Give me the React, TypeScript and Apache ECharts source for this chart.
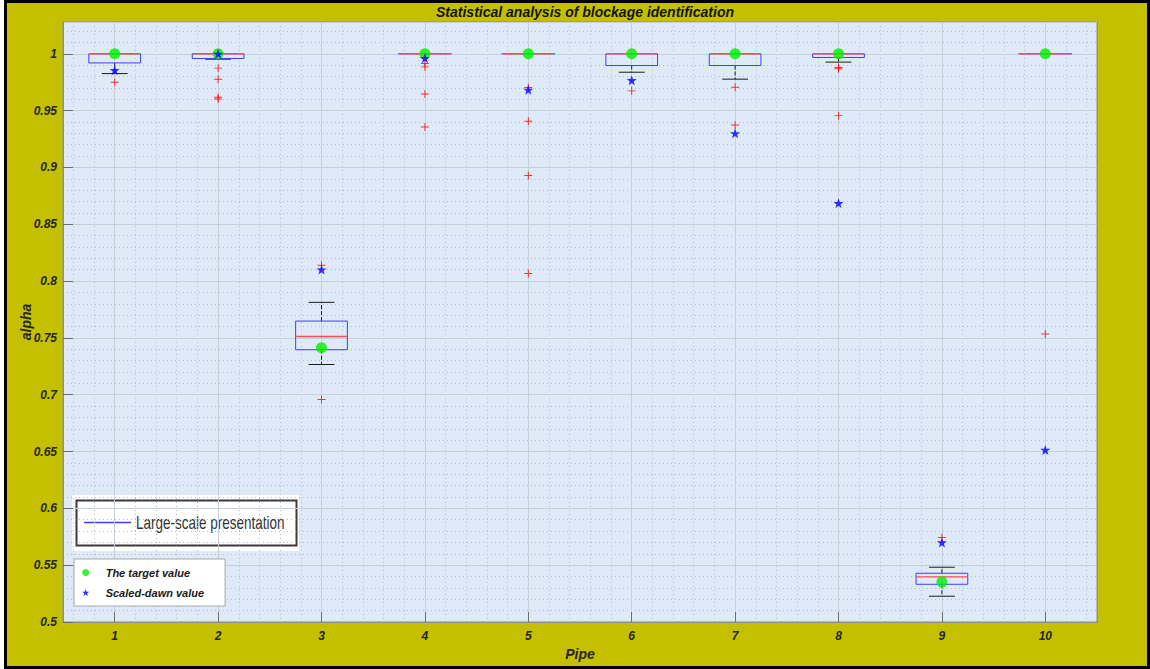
import React, { useEffect, useRef } from "react";
import * as echarts from "echarts";

// ---------- data ----------
const PIPES = [1, 2, 3, 4, 5, 6, 7, 8, 9, 10];
const LOWER_WHISKER = [0.9826, 0.9953, 0.7266, 1, 1, 0.9838, 0.9777, 0.9927, 0.5227, 1];
const Q1 = [0.992, 0.9959, 0.7396, 1, 1, 0.9897, 0.9897, 0.9968, 0.5332, 1];
const MEDIAN = [1, 1, 0.7513, 1, 1, 1, 1, 1, 0.5397, 1];
const Q3 = [1, 1, 0.7648, 1, 1, 1, 1, 1, 0.5429, 1];
const UPPER_WHISKER = [1, 1, 0.7813, 1, 1, 1, 1, 1, 0.5482, 1];
const OUTLIERS: [number, number][] = [
  [1, 0.975],
  [2, 0.9874], [2, 0.9777], [2, 0.9618], [2, 0.9603],
  [3, 0.8139], [3, 0.6958],
  [4, 0.9915], [4, 0.9885], [4, 0.9647], [4, 0.9356],
  [5, 0.9703], [5, 0.9406], [5, 0.893], [5, 0.8066],
  [6, 0.9674],
  [7, 0.9706], [7, 0.9374],
  [8, 0.9879], [8, 0.9868], [8, 0.9456],
  [9, 0.5744],
  [10, 0.7534],
];
const TARGET = [1, 1, 0.7414, 1, 1, 1, 1, 1, 0.5353, 1];
const SCALED = [0.9856, 1.0, 0.8101, 0.9962, 0.9683, 0.9768, 0.93, 0.8686, 0.57, 0.6514];

const X_MIN = 0.5;
const X_MAX = 10.5;
const Y_MIN = 0.5;
const Y_MAX = 1.028;
const Y_STEP = 0.05;
const Y_MINOR_STEP = 0.01;
const X_MINOR_STEP = 0.2;

const FONT = "'Liberation Sans', Arial, sans-serif";
const STAR =
  "path://M50 0L61.8 35.1H97.6L68.9 56.8L79.4 91L50 70.4L20.6 91L31.1 56.8L2.4 35.1H38.2Z";
const PLUS = "path://M0 44H100V56H0Z M44 0H56V100H44Z";

const minorX: number[] = [];
for (let v = 0.6; v < X_MAX - 1e-9; v += X_MINOR_STEP) {
  const r = Math.round(v * 10) / 10;
  if (Math.abs(r - Math.round(r)) > 1e-6) minorX.push(r);
}

export default function App() {
  const ref = useRef<HTMLDivElement>(null);

  useEffect(() => {
    if (!ref.current) return;
    const chart = echarts.init(ref.current, undefined, { renderer: "svg" });

    const boxData = PIPES.map((p, i) => [
      p,
      LOWER_WHISKER[i],
      Q1[i],
      MEDIAN[i],
      Q3[i],
      UPPER_WHISKER[i],
    ]);

    const tickLabel = {
      color: "#262626",
      fontFamily: FONT,
      fontWeight: "bold" as const,
      fontStyle: "italic" as const,
      fontSize: 12,
    };
    const axisNameStyle = {
      color: "#262626",
      fontFamily: FONT,
      fontWeight: "bold" as const,
      fontStyle: "italic" as const,
      fontSize: 14,
    };
    const edgeLine = { show: true, lineStyle: { color: "#8e8e8e", width: 1 } };
    const tickStyle = { color: "#6e6e6e", width: 1 };

    const option: any = {
      animation: false,
      backgroundColor: "#C4C000",
      title: {
        text: "Statistical analysis of blockage identification",
        left: 580,
        top: 0,
        textAlign: "center",
        textStyle: {
          color: "#141414",
          fontFamily: FONT,
          fontWeight: "bold",
          fontStyle: "italic",
          fontSize: 14,
        },
      },
      grid: {
        left: 63,
        right: 53,
        top: 22,
        bottom: 47,
        outerBoundsMode: "none",
        containLabel: false,
        show: true,
        backgroundColor: "#DFEAF8",
        borderColor: "#8e8e8e",
        borderWidth: 1,
      },
      legend: {
        data: ["The target value", "Scaled-dawn value"],
        orient: "vertical",
        left: 74,
        top: 559,
        padding: [8, 21, 8, 8],
        itemWidth: 30,
        itemHeight: 7,
        itemGap: 9,
        backgroundColor: "#ffffff",
        borderColor: "#a8a8a8",
        borderWidth: 1,
        borderRadius: 0,
        selectedMode: false,
        textStyle: {
          color: "#1a1a1a",
          fontFamily: FONT,
          fontWeight: "bold",
          fontStyle: "italic",
          fontSize: 11,
        },
      },
      xAxis: [
        {
          type: "value",
          min: X_MIN,
          max: X_MAX,
          position: "bottom",
          name: "Pipe",
          nameLocation: "middle",
          nameGap: 25,
          nameMoveOverlap: false,
          nameTextStyle: axisNameStyle,
          axisLine: edgeLine,
          axisTick: { show: true, inside: true, length: 10, customValues: PIPES, lineStyle: tickStyle },
          axisLabel: { ...tickLabel, customValues: PIPES, margin: 8 },
          splitLine: { show: true, lineStyle: { color: "#c5d0dc", width: 1 } },
          z: 3,
        },
        {
          type: "value",
          min: X_MIN,
          max: X_MAX,
          position: "top",
          axisLine: edgeLine,
          axisTick: { show: true, inside: true, length: 10, customValues: PIPES, lineStyle: tickStyle },
          axisLabel: { show: false },
          splitLine: { show: false },
        },
        {
          type: "value",
          min: X_MIN,
          max: X_MAX,
          position: "bottom",
          axisLine: { show: false },
          axisTick: { show: false, customValues: minorX },
          axisLabel: { show: false },
          splitLine: { show: true, lineStyle: { color: "#b5bfca", width: 1, type: [1, 3] } },
        },
      ],
      yAxis: [
        {
          type: "value",
          min: Y_MIN,
          max: Y_MAX,
          interval: Y_STEP,
          position: "left",
          name: "alpha",
          nameLocation: "middle",
          nameGap: 30,
          nameMoveOverlap: false,
          nameTextStyle: axisNameStyle,
          axisLine: edgeLine,
          axisTick: { show: true, inside: true, length: 10, lineStyle: tickStyle },
          axisLabel: {
            ...tickLabel,
            margin: 6,
            showMaxLabel: false,
            formatter: (v: number) => {
              const k = v / Y_STEP;
              return Math.abs(k - Math.round(k)) < 1e-6 ? String(parseFloat(v.toFixed(2))) : "";
            },
          },
          splitLine: { show: true, lineStyle: { color: "#c5d0dc", width: 1 } },
          z: 3,
        },
        {
          type: "value",
          min: Y_MIN,
          max: Y_MAX,
          interval: Y_STEP,
          position: "right",
          axisLine: edgeLine,
          axisTick: { show: true, inside: true, length: 10, lineStyle: tickStyle },
          axisLabel: { show: false },
          splitLine: { show: false },
        },
        {
          type: "value",
          min: Y_MIN,
          max: Y_MAX,
          interval: Y_MINOR_STEP,
          position: "left",
          axisLine: { show: false },
          axisTick: { show: false },
          axisLabel: { show: false },
          splitLine: { show: true, lineStyle: { color: "#b5bfca", width: 1, type: [1, 3] } },
        },
      ],
      series: [
        {
          name: "Large-scale presentation",
          type: "custom",
          xAxisIndex: 0,
          yAxisIndex: 0,
          data: boxData,
          encode: { x: 0, y: [1, 2, 3, 4, 5] },
          z: 3,
          renderItem: (params: any, api: any) => {
            const x = api.value(0);
            const lo = api.coord([x, api.value(1)]);
            const q1 = api.coord([x, api.value(2)]);
            const med = api.coord([x, api.value(3)]);
            const q3 = api.coord([x, api.value(4)]);
            const hi = api.coord([x, api.value(5)]);
            const unit = api.size([1, 0])[0];
            const bw = unit * 0.25;
            const cw = unit * 0.125;
            const cx = q1[0];
            const children: any[] = [];
            const whisk = { stroke: "#1a1a1a", lineWidth: 1, lineDash: [4, 2] };
            const cap = { stroke: "#1a1a1a", lineWidth: 1 };
            if (q3[1] - hi[1] > 0.5) {
              children.push({ type: "line", shape: { x1: cx, y1: q3[1], x2: cx, y2: hi[1] }, style: whisk });
              children.push({ type: "line", shape: { x1: cx - cw, y1: hi[1], x2: cx + cw, y2: hi[1] }, style: cap });
            }
            if (lo[1] - q1[1] > 0.5) {
              children.push({ type: "line", shape: { x1: cx, y1: q1[1], x2: cx, y2: lo[1] }, style: whisk });
              children.push({ type: "line", shape: { x1: cx - cw, y1: lo[1], x2: cx + cw, y2: lo[1] }, style: cap });
            }
            const h = q1[1] - q3[1];
            if (h > 0.5) {
              children.push({
                type: "rect",
                shape: { x: cx - bw, y: q3[1], width: bw * 2, height: h },
                style: { fill: "none", stroke: "#3d3dff", lineWidth: 1 },
              });
            } else {
              children.push({
                type: "line",
                shape: { x1: cx - bw - 1, y1: q3[1], x2: cx + bw + 1, y2: q3[1] },
                style: { stroke: "#6a6aff", lineWidth: 1.4 },
              });
            }
            children.push({
              type: "line",
              shape: { x1: cx - bw + 0.5, y1: med[1], x2: cx + bw - 0.5, y2: med[1] },
              style: { stroke: "#ff4d4d", lineWidth: 1.4 },
            });
            return { type: "group", children };
          },
        },
        {
          name: "Outliers",
          type: "scatter",
          xAxisIndex: 0,
          yAxisIndex: 0,
          data: OUTLIERS,
          symbol: PLUS,
          symbolSize: 8,
          itemStyle: { color: "#ff0000" },
          z: 4,
        },
        {
          name: "The target value",
          type: "scatter",
          xAxisIndex: 0,
          yAxisIndex: 0,
          data: PIPES.map((p, i) => [p, TARGET[i]]),
          symbol: "circle",
          symbolSize: 11,
          itemStyle: { color: "#00f000" },
          z: 5,
        },
        {
          name: "Scaled-dawn value",
          type: "scatter",
          xAxisIndex: 0,
          yAxisIndex: 0,
          data: PIPES.map((p, i) => [p, SCALED[i]]),
          symbol: STAR,
          symbolSize: 10,
          itemStyle: { color: "#0000ff" },
          z: 6,
        },
      ],
      graphic: [
        { type: "rect", z: 100, shape: { x: 0, y: 0, width: 1150, height: 3 }, style: { fill: "#000" } },
        { type: "rect", z: 100, shape: { x: 0, y: 666, width: 1150, height: 3 }, style: { fill: "#000" } },
        { type: "rect", z: 100, shape: { x: 1147, y: 0, width: 3, height: 669 }, style: { fill: "#000" } },
        { type: "rect", z: 100, shape: { x: 0, y: 0, width: 4, height: 669 }, style: { fill: "#fff" } },
        { type: "rect", z: 100, shape: { x: 4, y: 0, width: 3, height: 669 }, style: { fill: "#000" } },
        {
          type: "group",
          z: 100,
          children: [
            { type: "rect", shape: { x: 72, y: 495, width: 227, height: 56 }, style: { fill: "#fff" } },
            {
              type: "rect",
              shape: { x: 76.5, y: 500.5, width: 220, height: 45 },
              style: { fill: "#fff", stroke: "#3a3a3a", lineWidth: 2 },
            },
            {
              type: "line",
              shape: { x1: 84, y1: 522.5, x2: 131, y2: 522.5 },
              style: { stroke: "#3b3bff", lineWidth: 1.5 },
            },
            {
              type: "text",
              x: 136,
              y: 523,
              scaleX: 0.75,
              style: {
                text: "Large-scale presentation",
                fill: "#333",
                font: `18px ${FONT}`,
                textVerticalAlign: "middle",
                verticalAlign: "middle",
              },
            },
          ],
        },
      ],
    };

    chart.setOption(option);
    return () => chart.dispose();
  }, []);

  return (
    <div
      ref={ref}
      style={{ position: "fixed", left: 0, top: 0, width: 1150, height: 669 }}
    />
  );
}
